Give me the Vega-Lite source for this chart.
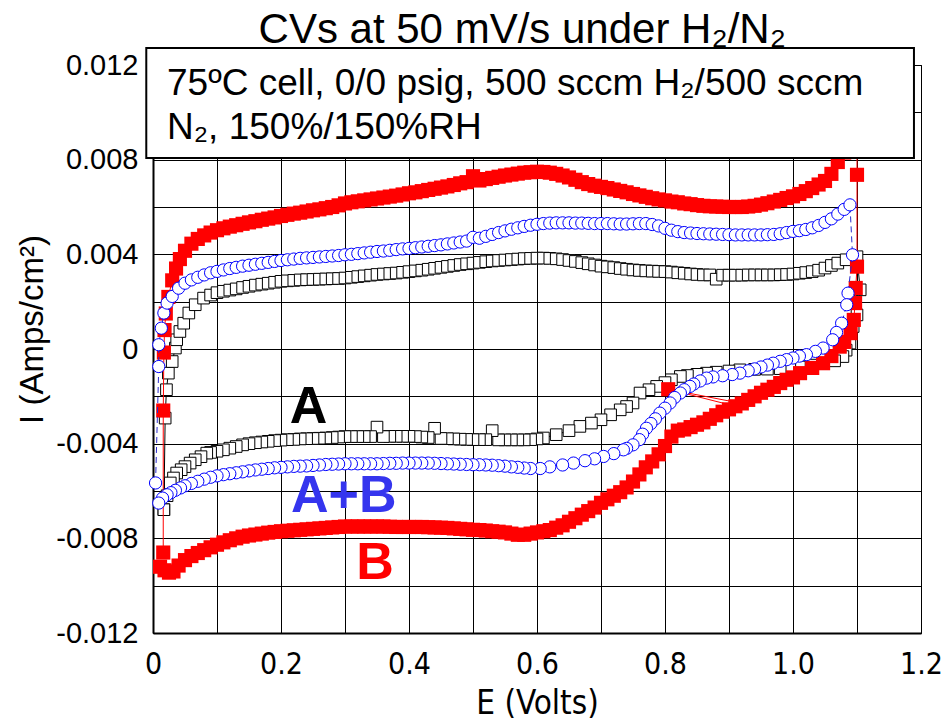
{
"$schema": "https://vega.github.io/schema/vega-lite/v6.json",
"width": 768, "height": 568,
"autosize": {"type": "none"},
"padding": {"left": 153, "top": 65, "right": 22, "bottom": 89},
"background": "white",
"config": {"view": {"stroke": "#000", "strokeWidth": 1}, "font": "Liberation Sans"},
"datasets": {
"cv": [
{"s":"B","E":0.016,"I":-0.0086},{"s":"B","E":0.016,"I":-0.0026},{"s":"B","E":0.017,"I":-0.00015},{"s":"B","E":0.018,"I":0.0008},{"s":"B","E":0.02,"I":0.0015},{"s":"B","E":0.024,"I":0.0022},{"s":"B","E":0.03,"I":0.0029},{"s":"B","E":0.036,"I":0.0034},{"s":"B","E":0.042,"I":0.0038},{"s":"B","E":0.05,"I":0.00415},{"s":"B","E":0.06,"I":0.00445},{"s":"B","E":0.07,"I":0.00465},{"s":"B","E":0.08,"I":0.0048},{"s":"B","E":0.09,"I":0.00492},{"s":"B","E":0.1,"I":0.00502},{"s":"B","E":0.11,"I":0.0051},{"s":"B","E":0.12,"I":0.00517},{"s":"B","E":0.13,"I":0.00523},{"s":"B","E":0.14,"I":0.00529},{"s":"B","E":0.15,"I":0.00535},{"s":"B","E":0.16,"I":0.0054},{"s":"B","E":0.17,"I":0.00546},{"s":"B","E":0.18,"I":0.00551},{"s":"B","E":0.19,"I":0.00556},{"s":"B","E":0.2,"I":0.00562},{"s":"B","E":0.21,"I":0.00567},{"s":"B","E":0.22,"I":0.00572},{"s":"B","E":0.23,"I":0.00576},{"s":"B","E":0.24,"I":0.00581},{"s":"B","E":0.25,"I":0.00586},{"s":"B","E":0.26,"I":0.0059},{"s":"B","E":0.27,"I":0.00595},{"s":"B","E":0.28,"I":0.006},{"s":"B","E":0.29,"I":0.00607},{"s":"B","E":0.3,"I":0.00615},{"s":"B","E":0.31,"I":0.0062},{"s":"B","E":0.32,"I":0.00624},{"s":"B","E":0.33,"I":0.00628},{"s":"B","E":0.34,"I":0.00632},{"s":"B","E":0.35,"I":0.00636},{"s":"B","E":0.36,"I":0.0064},{"s":"B","E":0.37,"I":0.00644},{"s":"B","E":0.38,"I":0.00648},{"s":"B","E":0.39,"I":0.00653},{"s":"B","E":0.4,"I":0.00658},{"s":"B","E":0.41,"I":0.00662},{"s":"B","E":0.42,"I":0.00667},{"s":"B","E":0.43,"I":0.00672},{"s":"B","E":0.44,"I":0.00677},{"s":"B","E":0.45,"I":0.00682},{"s":"B","E":0.46,"I":0.00687},{"s":"B","E":0.47,"I":0.00693},{"s":"B","E":0.48,"I":0.007},{"s":"B","E":0.49,"I":0.00705},{"s":"B","E":0.5,"I":0.0073},{"s":"B","E":0.51,"I":0.00712},{"s":"B","E":0.52,"I":0.00718},{"s":"B","E":0.53,"I":0.00723},{"s":"B","E":0.54,"I":0.00728},{"s":"B","E":0.55,"I":0.00733},{"s":"B","E":0.56,"I":0.00737},{"s":"B","E":0.57,"I":0.00741},{"s":"B","E":0.58,"I":0.00745},{"s":"B","E":0.59,"I":0.00747},{"s":"B","E":0.6,"I":0.00749},{"s":"B","E":0.61,"I":0.00748},{"s":"B","E":0.62,"I":0.00745},{"s":"B","E":0.63,"I":0.0074},{"s":"B","E":0.64,"I":0.00733},{"s":"B","E":0.65,"I":0.00725},{"s":"B","E":0.66,"I":0.00715},{"s":"B","E":0.67,"I":0.00705},{"s":"B","E":0.68,"I":0.00697},{"s":"B","E":0.69,"I":0.0069},{"s":"B","E":0.7,"I":0.00685},{"s":"B","E":0.71,"I":0.0068},{"s":"B","E":0.72,"I":0.00674},{"s":"B","E":0.73,"I":0.00668},{"s":"B","E":0.74,"I":0.00662},{"s":"B","E":0.75,"I":0.00655},{"s":"B","E":0.76,"I":0.00649},{"s":"B","E":0.77,"I":0.00643},{"s":"B","E":0.78,"I":0.00637},{"s":"B","E":0.79,"I":0.00632},{"s":"B","E":0.8,"I":0.00628},{"s":"B","E":0.81,"I":0.00623},{"s":"B","E":0.82,"I":0.0062},{"s":"B","E":0.83,"I":0.00615},{"s":"B","E":0.84,"I":0.00612},{"s":"B","E":0.85,"I":0.00608},{"s":"B","E":0.86,"I":0.00605},{"s":"B","E":0.87,"I":0.00603},{"s":"B","E":0.88,"I":0.00602},{"s":"B","E":0.89,"I":0.00601},{"s":"B","E":0.9,"I":0.006},{"s":"B","E":0.91,"I":0.006},{"s":"B","E":0.92,"I":0.006},{"s":"B","E":0.93,"I":0.00602},{"s":"B","E":0.94,"I":0.00605},{"s":"B","E":0.95,"I":0.0061},{"s":"B","E":0.96,"I":0.00616},{"s":"B","E":0.97,"I":0.00623},{"s":"B","E":0.98,"I":0.0063},{"s":"B","E":0.99,"I":0.00638},{"s":"B","E":1.0,"I":0.00645},{"s":"B","E":1.01,"I":0.00655},{"s":"B","E":1.02,"I":0.00667},{"s":"B","E":1.03,"I":0.0068},{"s":"B","E":1.04,"I":0.00695},{"s":"B","E":1.05,"I":0.0071},{"s":"B","E":1.06,"I":0.0074},{"s":"B","E":1.07,"I":0.0079},{"s":"B","E":1.08,"I":0.0083},{"s":"B","E":1.09,"I":0.0087},{"s":"B","E":1.1,"I":0.009},
{"s":"B","E":1.1,"I":0.00736},{"s":"B","E":1.1,"I":0.00348},{"s":"B","E":1.098,"I":0.00258},{"s":"B","E":1.097,"I":0.00194},{"s":"B","E":1.095,"I":0.00123},{"s":"B","E":1.09,"I":0.00067},{"s":"B","E":1.08,"I":0.0003},{"s":"B","E":1.073,"I":0.0001},{"s":"B","E":1.06,"I":-0.0003},{"s":"B","E":1.047,"I":-0.0006},{"s":"B","E":1.03,"I":-0.0008},{"s":"B","E":1.011,"I":-0.00102},{"s":"B","E":1.0,"I":-0.0012},{"s":"B","E":0.99,"I":-0.0013},{"s":"B","E":0.98,"I":-0.00144},{"s":"B","E":0.97,"I":-0.0016},{"s":"B","E":0.96,"I":-0.00172},{"s":"B","E":0.95,"I":-0.00185},{"s":"B","E":0.94,"I":-0.002},{"s":"B","E":0.93,"I":-0.00215},{"s":"B","E":0.92,"I":-0.0023},{"s":"B","E":0.805,"I":-0.0017},{"s":"B","E":0.91,"I":-0.00242},{"s":"B","E":0.9,"I":-0.00255},{"s":"B","E":0.89,"I":-0.00265},{"s":"B","E":0.88,"I":-0.0028},{"s":"B","E":0.87,"I":-0.00295},{"s":"B","E":0.86,"I":-0.0031},{"s":"B","E":0.85,"I":-0.0032},{"s":"B","E":0.84,"I":-0.0033},{"s":"B","E":0.83,"I":-0.0034},{"s":"B","E":0.82,"I":-0.00345},{"s":"B","E":0.81,"I":-0.0037},{"s":"B","E":0.8,"I":-0.0041},{"s":"B","E":0.79,"I":-0.00445},{"s":"B","E":0.78,"I":-0.00475},{"s":"B","E":0.77,"I":-0.005},{"s":"B","E":0.76,"I":-0.0053},{"s":"B","E":0.75,"I":-0.0056},{"s":"B","E":0.74,"I":-0.00585},{"s":"B","E":0.73,"I":-0.00605},{"s":"B","E":0.72,"I":-0.0062},{"s":"B","E":0.71,"I":-0.00635},{"s":"B","E":0.7,"I":-0.0065},{"s":"B","E":0.69,"I":-0.0067},{"s":"B","E":0.68,"I":-0.00685},{"s":"B","E":0.67,"I":-0.007},{"s":"B","E":0.66,"I":-0.00715},{"s":"B","E":0.65,"I":-0.0073},{"s":"B","E":0.64,"I":-0.00745},{"s":"B","E":0.63,"I":-0.00755},{"s":"B","E":0.62,"I":-0.00765},{"s":"B","E":0.61,"I":-0.0077},{"s":"B","E":0.6,"I":-0.00775},{"s":"B","E":0.59,"I":-0.0078},{"s":"B","E":0.58,"I":-0.00785},{"s":"B","E":0.57,"I":-0.00785},{"s":"B","E":0.56,"I":-0.0078},{"s":"B","E":0.55,"I":-0.00775},{"s":"B","E":0.54,"I":-0.00772},{"s":"B","E":0.53,"I":-0.0077},{"s":"B","E":0.52,"I":-0.00767},{"s":"B","E":0.51,"I":-0.00765},{"s":"B","E":0.5,"I":-0.00764},{"s":"B","E":0.49,"I":-0.00762},{"s":"B","E":0.48,"I":-0.0076},{"s":"B","E":0.47,"I":-0.00758},{"s":"B","E":0.46,"I":-0.00756},{"s":"B","E":0.45,"I":-0.00755},{"s":"B","E":0.44,"I":-0.00754},{"s":"B","E":0.43,"I":-0.00753},{"s":"B","E":0.42,"I":-0.00752},{"s":"B","E":0.41,"I":-0.00752},{"s":"B","E":0.4,"I":-0.00752},{"s":"B","E":0.39,"I":-0.00752},{"s":"B","E":0.38,"I":-0.00752},{"s":"B","E":0.37,"I":-0.00751},{"s":"B","E":0.36,"I":-0.0075},{"s":"B","E":0.35,"I":-0.0075},{"s":"B","E":0.34,"I":-0.0075},{"s":"B","E":0.33,"I":-0.0075},{"s":"B","E":0.32,"I":-0.0075},{"s":"B","E":0.31,"I":-0.0075},{"s":"B","E":0.3,"I":-0.0075},{"s":"B","E":0.29,"I":-0.00752},{"s":"B","E":0.28,"I":-0.00754},{"s":"B","E":0.27,"I":-0.00756},{"s":"B","E":0.26,"I":-0.00758},{"s":"B","E":0.25,"I":-0.0076},{"s":"B","E":0.24,"I":-0.00762},{"s":"B","E":0.23,"I":-0.00764},{"s":"B","E":0.22,"I":-0.00766},{"s":"B","E":0.21,"I":-0.00768},{"s":"B","E":0.2,"I":-0.0077},{"s":"B","E":0.19,"I":-0.00773},{"s":"B","E":0.18,"I":-0.00776},{"s":"B","E":0.17,"I":-0.0078},{"s":"B","E":0.16,"I":-0.00784},{"s":"B","E":0.15,"I":-0.00788},{"s":"B","E":0.14,"I":-0.00793},{"s":"B","E":0.13,"I":-0.008},{"s":"B","E":0.12,"I":-0.00808},{"s":"B","E":0.11,"I":-0.00817},{"s":"B","E":0.1,"I":-0.00827},{"s":"B","E":0.09,"I":-0.00838},{"s":"B","E":0.08,"I":-0.0085},{"s":"B","E":0.07,"I":-0.00862},{"s":"B","E":0.06,"I":-0.00875},{"s":"B","E":0.05,"I":-0.00892},{"s":"B","E":0.04,"I":-0.00915},{"s":"B","E":0.032,"I":-0.0094},{"s":"B","E":0.025,"I":-0.00945},{"s":"B","E":0.018,"I":-0.00935},{"s":"B","E":0.011,"I":-0.0092},
{"s":"AB","E":0.004,"I":-0.00566},{"s":"AB","E":0.009,"I":-0.00074},{"s":"AB","E":0.009,"I":0.00018},{"s":"AB","E":0.013,"I":0.00088},{"s":"AB","E":0.017,"I":0.00152},{"s":"AB","E":0.022,"I":0.00194},{"s":"AB","E":0.03,"I":0.00222},{"s":"AB","E":0.04,"I":0.00257},{"s":"AB","E":0.05,"I":0.00278},{"s":"AB","E":0.06,"I":0.00292},{"s":"AB","E":0.07,"I":0.00303},{"s":"AB","E":0.08,"I":0.00313},{"s":"AB","E":0.09,"I":0.00322},{"s":"AB","E":0.1,"I":0.00328},{"s":"AB","E":0.11,"I":0.00334},{"s":"AB","E":0.12,"I":0.0034},{"s":"AB","E":0.13,"I":0.00345},{"s":"AB","E":0.14,"I":0.0035},{"s":"AB","E":0.15,"I":0.00354},{"s":"AB","E":0.16,"I":0.00358},{"s":"AB","E":0.17,"I":0.00362},{"s":"AB","E":0.18,"I":0.00366},{"s":"AB","E":0.19,"I":0.0037},{"s":"AB","E":0.2,"I":0.00374},{"s":"AB","E":0.21,"I":0.00377},{"s":"AB","E":0.22,"I":0.0038},{"s":"AB","E":0.23,"I":0.00383},{"s":"AB","E":0.24,"I":0.00385},{"s":"AB","E":0.25,"I":0.00387},{"s":"AB","E":0.26,"I":0.00389},{"s":"AB","E":0.27,"I":0.00391},{"s":"AB","E":0.28,"I":0.00393},{"s":"AB","E":0.29,"I":0.00395},{"s":"AB","E":0.3,"I":0.00398},{"s":"AB","E":0.31,"I":0.004},{"s":"AB","E":0.32,"I":0.00403},{"s":"AB","E":0.33,"I":0.00406},{"s":"AB","E":0.34,"I":0.00409},{"s":"AB","E":0.35,"I":0.00412},{"s":"AB","E":0.36,"I":0.00414},{"s":"AB","E":0.37,"I":0.00417},{"s":"AB","E":0.38,"I":0.0042},{"s":"AB","E":0.39,"I":0.00423},{"s":"AB","E":0.4,"I":0.00425},{"s":"AB","E":0.41,"I":0.00428},{"s":"AB","E":0.42,"I":0.00431},{"s":"AB","E":0.43,"I":0.00434},{"s":"AB","E":0.44,"I":0.00437},{"s":"AB","E":0.45,"I":0.0044},{"s":"AB","E":0.46,"I":0.00444},{"s":"AB","E":0.47,"I":0.00448},{"s":"AB","E":0.48,"I":0.00452},{"s":"AB","E":0.49,"I":0.00456},{"s":"AB","E":0.5,"I":0.00472},{"s":"AB","E":0.51,"I":0.00468},{"s":"AB","E":0.52,"I":0.00476},{"s":"AB","E":0.53,"I":0.00484},{"s":"AB","E":0.54,"I":0.00492},{"s":"AB","E":0.55,"I":0.00499},{"s":"AB","E":0.56,"I":0.00506},{"s":"AB","E":0.57,"I":0.00512},{"s":"AB","E":0.58,"I":0.00518},{"s":"AB","E":0.59,"I":0.00523},{"s":"AB","E":0.6,"I":0.00527},{"s":"AB","E":0.61,"I":0.0053},{"s":"AB","E":0.62,"I":0.00532},{"s":"AB","E":0.63,"I":0.00533},{"s":"AB","E":0.64,"I":0.00533},{"s":"AB","E":0.65,"I":0.00533},{"s":"AB","E":0.66,"I":0.00532},{"s":"AB","E":0.67,"I":0.00532},{"s":"AB","E":0.68,"I":0.00531},{"s":"AB","E":0.69,"I":0.0053},{"s":"AB","E":0.7,"I":0.0053},{"s":"AB","E":0.71,"I":0.0053},{"s":"AB","E":0.72,"I":0.00529},{"s":"AB","E":0.73,"I":0.00528},{"s":"AB","E":0.74,"I":0.00528},{"s":"AB","E":0.75,"I":0.00529},{"s":"AB","E":0.76,"I":0.0053},{"s":"AB","E":0.77,"I":0.0053},{"s":"AB","E":0.78,"I":0.00526},{"s":"AB","E":0.79,"I":0.0052},{"s":"AB","E":0.8,"I":0.0051},{"s":"AB","E":0.81,"I":0.00502},{"s":"AB","E":0.82,"I":0.00496},{"s":"AB","E":0.83,"I":0.00492},{"s":"AB","E":0.84,"I":0.0049},{"s":"AB","E":0.85,"I":0.00488},{"s":"AB","E":0.86,"I":0.00487},{"s":"AB","E":0.87,"I":0.00486},{"s":"AB","E":0.88,"I":0.00485},{"s":"AB","E":0.89,"I":0.00484},{"s":"AB","E":0.9,"I":0.00483},{"s":"AB","E":0.91,"I":0.00482},{"s":"AB","E":0.92,"I":0.00482},{"s":"AB","E":0.93,"I":0.00482},{"s":"AB","E":0.94,"I":0.00482},{"s":"AB","E":0.95,"I":0.00482},{"s":"AB","E":0.96,"I":0.00483},{"s":"AB","E":0.97,"I":0.00484},{"s":"AB","E":0.98,"I":0.00487},{"s":"AB","E":0.99,"I":0.00492},{"s":"AB","E":1.0,"I":0.00497},{"s":"AB","E":1.01,"I":0.005},{"s":"AB","E":1.02,"I":0.00505},{"s":"AB","E":1.03,"I":0.00512},{"s":"AB","E":1.04,"I":0.00522},{"s":"AB","E":1.05,"I":0.00535},{"s":"AB","E":1.06,"I":0.0055},{"s":"AB","E":1.07,"I":0.0057},{"s":"AB","E":1.08,"I":0.0059},{"s":"AB","E":1.089,"I":0.00609},
{"s":"AB","E":1.093,"I":0.00398},{"s":"AB","E":1.086,"I":0.00236},{"s":"AB","E":1.084,"I":0.00187},{"s":"AB","E":1.076,"I":0.00109},{"s":"AB","E":1.068,"I":0.0007},{"s":"AB","E":1.062,"I":0.00039},{"s":"AB","E":1.047,"I":0.00004},{"s":"AB","E":1.035,"I":-0.0001},{"s":"AB","E":1.021,"I":-0.00024},{"s":"AB","E":1.01,"I":-0.0003},{"s":"AB","E":1.0,"I":-0.00038},{"s":"AB","E":0.99,"I":-0.00045},{"s":"AB","E":0.98,"I":-0.00052},{"s":"AB","E":0.969,"I":-0.0006},{"s":"AB","E":0.96,"I":-0.00068},{"s":"AB","E":0.95,"I":-0.00076},{"s":"AB","E":0.94,"I":-0.00084},{"s":"AB","E":0.93,"I":-0.00092},{"s":"AB","E":0.917,"I":-0.00102},{"s":"AB","E":0.905,"I":-0.00108},{"s":"AB","E":0.89,"I":-0.00113},{"s":"AB","E":0.875,"I":-0.00118},{"s":"AB","E":0.865,"I":-0.00123},{"s":"AB","E":0.855,"I":-0.00135},{"s":"AB","E":0.845,"I":-0.00148},{"s":"AB","E":0.839,"I":-0.00158},{"s":"AB","E":0.83,"I":-0.00172},{"s":"AB","E":0.824,"I":-0.00186},{"s":"AB","E":0.815,"I":-0.00205},{"s":"AB","E":0.808,"I":-0.00228},{"s":"AB","E":0.8,"I":-0.0025},{"s":"AB","E":0.792,"I":-0.00271},{"s":"AB","E":0.785,"I":-0.00295},{"s":"AB","E":0.778,"I":-0.00315},{"s":"AB","E":0.771,"I":-0.00335},{"s":"AB","E":0.765,"I":-0.0036},{"s":"AB","E":0.76,"I":-0.00383},{"s":"AB","E":0.75,"I":-0.00405},{"s":"AB","E":0.74,"I":-0.0042},{"s":"AB","E":0.735,"I":-0.00426},{"s":"AB","E":0.72,"I":-0.00442},{"s":"AB","E":0.704,"I":-0.00454},{"s":"AB","E":0.69,"I":-0.00464},{"s":"AB","E":0.675,"I":-0.00472},{"s":"AB","E":0.657,"I":-0.00482},{"s":"AB","E":0.64,"I":-0.0049},{"s":"AB","E":0.62,"I":-0.00498},{"s":"AB","E":0.605,"I":-0.00505},{"s":"AB","E":0.59,"I":-0.00505},{"s":"AB","E":0.58,"I":-0.00503},{"s":"AB","E":0.57,"I":-0.005},{"s":"AB","E":0.56,"I":-0.00498},{"s":"AB","E":0.55,"I":-0.00495},{"s":"AB","E":0.54,"I":-0.00493},{"s":"AB","E":0.53,"I":-0.00491},{"s":"AB","E":0.52,"I":-0.0049},{"s":"AB","E":0.51,"I":-0.00489},{"s":"AB","E":0.5,"I":-0.00489},{"s":"AB","E":0.49,"I":-0.00488},{"s":"AB","E":0.48,"I":-0.00487},{"s":"AB","E":0.47,"I":-0.00486},{"s":"AB","E":0.46,"I":-0.00485},{"s":"AB","E":0.45,"I":-0.00484},{"s":"AB","E":0.44,"I":-0.00483},{"s":"AB","E":0.43,"I":-0.00482},{"s":"AB","E":0.42,"I":-0.00482},{"s":"AB","E":0.41,"I":-0.00482},{"s":"AB","E":0.4,"I":-0.00482},{"s":"AB","E":0.39,"I":-0.00482},{"s":"AB","E":0.38,"I":-0.00483},{"s":"AB","E":0.37,"I":-0.00483},{"s":"AB","E":0.36,"I":-0.00484},{"s":"AB","E":0.35,"I":-0.00485},{"s":"AB","E":0.34,"I":-0.00485},{"s":"AB","E":0.33,"I":-0.00485},{"s":"AB","E":0.32,"I":-0.00485},{"s":"AB","E":0.31,"I":-0.00485},{"s":"AB","E":0.3,"I":-0.00485},{"s":"AB","E":0.29,"I":-0.00486},{"s":"AB","E":0.28,"I":-0.00487},{"s":"AB","E":0.27,"I":-0.00488},{"s":"AB","E":0.26,"I":-0.0049},{"s":"AB","E":0.25,"I":-0.00492},{"s":"AB","E":0.24,"I":-0.00494},{"s":"AB","E":0.23,"I":-0.00495},{"s":"AB","E":0.22,"I":-0.00496},{"s":"AB","E":0.21,"I":-0.00498},{"s":"AB","E":0.2,"I":-0.005},{"s":"AB","E":0.19,"I":-0.00502},{"s":"AB","E":0.18,"I":-0.00505},{"s":"AB","E":0.17,"I":-0.00508},{"s":"AB","E":0.16,"I":-0.00511},{"s":"AB","E":0.15,"I":-0.00515},{"s":"AB","E":0.14,"I":-0.00519},{"s":"AB","E":0.13,"I":-0.00523},{"s":"AB","E":0.12,"I":-0.00527},{"s":"AB","E":0.11,"I":-0.00531},{"s":"AB","E":0.1,"I":-0.00536},{"s":"AB","E":0.09,"I":-0.00542},{"s":"AB","E":0.08,"I":-0.0055},{"s":"AB","E":0.07,"I":-0.00559},{"s":"AB","E":0.06,"I":-0.00568},{"s":"AB","E":0.05,"I":-0.00578},{"s":"AB","E":0.043,"I":-0.00587},{"s":"AB","E":0.035,"I":-0.00597},{"s":"AB","E":0.028,"I":-0.00607},{"s":"AB","E":0.022,"I":-0.00616},{"s":"AB","E":0.015,"I":-0.0063},{"s":"AB","E":0.009,"I":-0.00651},
{"s":"A","E":0.017,"I":-0.00679},{"s":"A","E":0.019,"I":-0.00292},{"s":"A","E":0.021,"I":-0.00172},{"s":"A","E":0.024,"I":-0.00102},{"s":"A","E":0.03,"I":-0.00053},{"s":"A","E":0.035,"I":0.00004},{"s":"A","E":0.037,"I":0.00039},{"s":"A","E":0.042,"I":0.00074},{"s":"A","E":0.048,"I":0.00109},{"s":"A","E":0.056,"I":0.00152},{"s":"A","E":0.066,"I":0.00187},{"s":"A","E":0.079,"I":0.00215},{"s":"A","E":0.09,"I":0.00228},{"s":"A","E":0.1,"I":0.00238},{"s":"A","E":0.11,"I":0.00244},{"s":"A","E":0.12,"I":0.00249},{"s":"A","E":0.13,"I":0.00254},{"s":"A","E":0.14,"I":0.0026},{"s":"A","E":0.15,"I":0.00265},{"s":"A","E":0.16,"I":0.0027},{"s":"A","E":0.17,"I":0.00274},{"s":"A","E":0.18,"I":0.00278},{"s":"A","E":0.19,"I":0.00282},{"s":"A","E":0.2,"I":0.00286},{"s":"A","E":0.21,"I":0.00288},{"s":"A","E":0.22,"I":0.0029},{"s":"A","E":0.23,"I":0.00292},{"s":"A","E":0.24,"I":0.00293},{"s":"A","E":0.25,"I":0.00294},{"s":"A","E":0.26,"I":0.00295},{"s":"A","E":0.27,"I":0.00296},{"s":"A","E":0.28,"I":0.00297},{"s":"A","E":0.29,"I":0.00298},{"s":"A","E":0.3,"I":0.003},{"s":"A","E":0.31,"I":0.00303},{"s":"A","E":0.32,"I":0.00306},{"s":"A","E":0.33,"I":0.00309},{"s":"A","E":0.34,"I":0.00312},{"s":"A","E":0.35,"I":0.00315},{"s":"A","E":0.36,"I":0.00317},{"s":"A","E":0.37,"I":0.00319},{"s":"A","E":0.38,"I":0.00321},{"s":"A","E":0.39,"I":0.00324},{"s":"A","E":0.4,"I":0.00327},{"s":"A","E":0.41,"I":0.0033},{"s":"A","E":0.42,"I":0.00333},{"s":"A","E":0.43,"I":0.00337},{"s":"A","E":0.44,"I":0.00341},{"s":"A","E":0.45,"I":0.00345},{"s":"A","E":0.46,"I":0.00349},{"s":"A","E":0.47,"I":0.00353},{"s":"A","E":0.48,"I":0.00357},{"s":"A","E":0.49,"I":0.0036},{"s":"A","E":0.5,"I":0.00363},{"s":"A","E":0.51,"I":0.00366},{"s":"A","E":0.52,"I":0.00369},{"s":"A","E":0.53,"I":0.00372},{"s":"A","E":0.54,"I":0.00374},{"s":"A","E":0.55,"I":0.00376},{"s":"A","E":0.56,"I":0.00378},{"s":"A","E":0.57,"I":0.0038},{"s":"A","E":0.58,"I":0.00382},{"s":"A","E":0.59,"I":0.00383},{"s":"A","E":0.6,"I":0.00384},{"s":"A","E":0.61,"I":0.00384},{"s":"A","E":0.62,"I":0.00383},{"s":"A","E":0.63,"I":0.00381},{"s":"A","E":0.64,"I":0.00378},{"s":"A","E":0.65,"I":0.00374},{"s":"A","E":0.66,"I":0.0037},{"s":"A","E":0.67,"I":0.00365},{"s":"A","E":0.68,"I":0.0036},{"s":"A","E":0.69,"I":0.00355},{"s":"A","E":0.7,"I":0.0035},{"s":"A","E":0.71,"I":0.00347},{"s":"A","E":0.72,"I":0.00344},{"s":"A","E":0.73,"I":0.0034},{"s":"A","E":0.74,"I":0.00337},{"s":"A","E":0.75,"I":0.00334},{"s":"A","E":0.76,"I":0.00332},{"s":"A","E":0.77,"I":0.0033},{"s":"A","E":0.78,"I":0.00329},{"s":"A","E":0.79,"I":0.00328},{"s":"A","E":0.8,"I":0.00327},{"s":"A","E":0.81,"I":0.00325},{"s":"A","E":0.82,"I":0.00322},{"s":"A","E":0.83,"I":0.0032},{"s":"A","E":0.84,"I":0.00317},{"s":"A","E":0.85,"I":0.00315},{"s":"A","E":0.86,"I":0.00313},{"s":"A","E":0.87,"I":0.00313},{"s":"A","E":0.88,"I":0.00295},{"s":"A","E":0.89,"I":0.00312},{"s":"A","E":0.9,"I":0.00312},{"s":"A","E":0.91,"I":0.00312},{"s":"A","E":0.92,"I":0.00312},{"s":"A","E":0.93,"I":0.00313},{"s":"A","E":0.94,"I":0.00313},{"s":"A","E":0.95,"I":0.00313},{"s":"A","E":0.96,"I":0.00313},{"s":"A","E":0.97,"I":0.00313},{"s":"A","E":0.98,"I":0.00314},{"s":"A","E":0.99,"I":0.00315},{"s":"A","E":1.0,"I":0.00317},{"s":"A","E":1.01,"I":0.0032},{"s":"A","E":1.02,"I":0.00323},{"s":"A","E":1.03,"I":0.00327},{"s":"A","E":1.04,"I":0.00333},{"s":"A","E":1.05,"I":0.00342},{"s":"A","E":1.06,"I":0.00353},{"s":"A","E":1.07,"I":0.00363},{"s":"A","E":1.083,"I":0.00377},{"s":"A","E":1.1,"I":0.0039},
{"s":"A","E":1.105,"I":0.0025},{"s":"A","E":1.1,"I":0.00144},{"s":"A","E":1.094,"I":0.00095},{"s":"A","E":1.089,"I":0.00025},{"s":"A","E":1.083,"I":-0.00005},{"s":"A","E":1.078,"I":-0.00032},{"s":"A","E":1.065,"I":-0.0005},{"s":"A","E":1.047,"I":-0.0006},{"s":"A","E":1.03,"I":-0.00068},{"s":"A","E":1.01,"I":-0.00076},{"s":"A","E":0.995,"I":-0.00081},{"s":"A","E":0.98,"I":-0.00083},{"s":"A","E":0.96,"I":-0.00085},{"s":"A","E":0.94,"I":-0.00086},{"s":"A","E":0.917,"I":-0.00088},{"s":"A","E":0.9,"I":-0.00093},{"s":"A","E":0.88,"I":-0.00098},{"s":"A","E":0.865,"I":-0.00102},{"s":"A","E":0.85,"I":-0.00107},{"s":"A","E":0.835,"I":-0.00112},{"s":"A","E":0.824,"I":-0.00116},{"s":"A","E":0.81,"I":-0.0013},{"s":"A","E":0.8,"I":-0.00142},{"s":"A","E":0.787,"I":-0.00158},{"s":"A","E":0.775,"I":-0.00172},{"s":"A","E":0.761,"I":-0.00186},{"s":"A","E":0.75,"I":-0.00228},{"s":"A","E":0.74,"I":-0.00243},{"s":"A","E":0.73,"I":-0.00257},{"s":"A","E":0.715,"I":-0.00278},{"s":"A","E":0.7,"I":-0.00299},{"s":"A","E":0.685,"I":-0.00313},{"s":"A","E":0.667,"I":-0.00327},{"s":"A","E":0.65,"I":-0.00345},{"s":"A","E":0.63,"I":-0.00362},{"s":"A","E":0.61,"I":-0.00376},{"s":"A","E":0.6,"I":-0.0038},{"s":"A","E":0.59,"I":-0.00383},{"s":"A","E":0.58,"I":-0.00384},{"s":"A","E":0.57,"I":-0.00384},{"s":"A","E":0.56,"I":-0.00384},{"s":"A","E":0.55,"I":-0.00384},{"s":"A","E":0.54,"I":-0.00384},{"s":"A","E":0.53,"I":-0.00345},{"s":"A","E":0.52,"I":-0.00383},{"s":"A","E":0.51,"I":-0.00383},{"s":"A","E":0.5,"I":-0.00383},{"s":"A","E":0.49,"I":-0.00382},{"s":"A","E":0.48,"I":-0.00381},{"s":"A","E":0.47,"I":-0.0038},{"s":"A","E":0.46,"I":-0.00379},{"s":"A","E":0.45,"I":-0.00378},{"s":"A","E":0.44,"I":-0.00335},{"s":"A","E":0.43,"I":-0.00374},{"s":"A","E":0.42,"I":-0.00372},{"s":"A","E":0.41,"I":-0.0037},{"s":"A","E":0.4,"I":-0.00369},{"s":"A","E":0.39,"I":-0.00369},{"s":"A","E":0.38,"I":-0.00369},{"s":"A","E":0.37,"I":-0.00369},{"s":"A","E":0.36,"I":-0.0037},{"s":"A","E":0.35,"I":-0.0033},{"s":"A","E":0.34,"I":-0.0037},{"s":"A","E":0.33,"I":-0.0037},{"s":"A","E":0.32,"I":-0.0037},{"s":"A","E":0.31,"I":-0.0037},{"s":"A","E":0.3,"I":-0.0037},{"s":"A","E":0.29,"I":-0.00372},{"s":"A","E":0.28,"I":-0.00374},{"s":"A","E":0.27,"I":-0.00376},{"s":"A","E":0.26,"I":-0.00377},{"s":"A","E":0.25,"I":-0.00378},{"s":"A","E":0.24,"I":-0.00379},{"s":"A","E":0.23,"I":-0.0038},{"s":"A","E":0.22,"I":-0.00382},{"s":"A","E":0.21,"I":-0.00383},{"s":"A","E":0.2,"I":-0.00385},{"s":"A","E":0.19,"I":-0.00387},{"s":"A","E":0.18,"I":-0.0039},{"s":"A","E":0.17,"I":-0.00393},{"s":"A","E":0.16,"I":-0.00396},{"s":"A","E":0.15,"I":-0.004},{"s":"A","E":0.14,"I":-0.00405},{"s":"A","E":0.13,"I":-0.00412},{"s":"A","E":0.12,"I":-0.00419},{"s":"A","E":0.11,"I":-0.00426},{"s":"A","E":0.1,"I":-0.00432},{"s":"A","E":0.09,"I":-0.00437},{"s":"A","E":0.084,"I":-0.0044},{"s":"A","E":0.075,"I":-0.00455},{"s":"A","E":0.066,"I":-0.00468},{"s":"A","E":0.058,"I":-0.00482},{"s":"A","E":0.05,"I":-0.00497},{"s":"A","E":0.044,"I":-0.0051},{"s":"A","E":0.037,"I":-0.00524},{"s":"A","E":0.032,"I":-0.00545},{"s":"A","E":0.027,"I":-0.00566},{"s":"A","E":0.022,"I":-0.0062},{"s":"A","E":0.017,"I":-0.00679}
]
},
"encoding": {
"x": {"field": "E", "type": "quantitative", "scale": {"domain": [0, 1.2], "nice": false, "zero": false},
 "axis": {"title": "E (Volts)", "values": [0,0.1,0.2,0.3,0.4,0.5,0.6,0.7,0.8,0.9,1.0,1.1,1.2],
  "labelExpr": "round(datum.value*10)%2==0 ? (datum.value==0 ? '0' : format(datum.value,'.1f')) : ''",
  "grid": true, "gridColor": "#000", "gridWidth": 1, "ticks": false, "tickSize": 0,
  "domainColor": "#000", "domainWidth": 2, "labelOverlap": false, "labelFlush": false,
  "labelFont": "DejaVu Sans Condensed, Liberation Sans", "labelFontSize": 30, "labelColor": "#000", "labelPadding": 16,
  "titleFont": "DejaVu Sans Condensed, Liberation Sans", "titleFontSize": 33, "titleFontWeight": "normal", "titleColor": "#000",
  "titleY": 80, "titleBaseline": "alphabetic"}},
"y": {"field": "I", "type": "quantitative", "scale": {"domain": [-0.012, 0.012], "nice": false, "zero": false},
 "axis": {"title": "I (Amps/cm²)", "values": [-0.012,-0.01,-0.008,-0.006,-0.004,-0.002,0,0.002,0.004,0.006,0.008,0.01,0.012],
  "labelExpr": "round(datum.value*1000)%4==0 ? (datum.value==0 ? '0' : (datum.value<0 ? '-' : '') + format(abs(datum.value),'.3f')) : ''",
  "grid": true, "gridColor": "#000", "gridWidth": 1, "ticks": false, "tickSize": 0,
  "domainColor": "#000", "domainWidth": 2, "labelOverlap": false, "labelFlush": false,
  "labelFont": "Liberation Sans", "labelFontSize": 29, "labelColor": "#000", "labelPadding": 15,
  "titleFont": "Liberation Sans", "titleFontSize": 33, "titleFontWeight": "normal", "titleColor": "#000",
  "titleX": -111, "titleY": 264, "titleBaseline": "alphabetic"}}
},
"layer": [
{"data": {"name": "cv"}, "transform": [{"filter": "datum.s=='A'"}], "mark": {"type": "line", "color": "#000", "strokeWidth": 1}, "encoding": {"order": {"value": null}}},
{"data": {"name": "cv"}, "transform": [{"filter": "datum.s=='A'"}], "mark": {"type": "point", "shape": "square", "filled": true, "fill": "#fff", "stroke": "#000", "strokeWidth": 1, "size": 135, "opacity": 1}},
{"data": {"name": "cv"}, "transform": [{"filter": "datum.s=='B'"}], "mark": {"type": "line", "color": "#ff0000", "strokeWidth": 1}, "encoding": {"order": {"value": null}}},
{"data": {"name": "cv"}, "transform": [{"filter": "datum.s=='B'"}], "mark": {"type": "point", "shape": "square", "filled": true, "fill": "#ff0000", "strokeWidth": 0, "size": 200, "opacity": 1}},
{"data": {"name": "cv"}, "transform": [{"filter": "datum.s=='AB'"}], "mark": {"type": "line", "color": "#2a2acc", "strokeWidth": 1, "strokeDash": [6, 4]}, "encoding": {"order": {"value": null}}},
{"data": {"name": "cv"}, "transform": [{"filter": "datum.s=='AB'"}], "mark": {"type": "point", "shape": "circle", "filled": true, "fill": "#fff", "stroke": "#0000ff", "strokeWidth": 1, "size": 150, "opacity": 1}},
{"data": {"values": [{"t": "A", "E": 0.243, "I": -0.00314}, {"t": "A+B", "E": 0.298, "I": -0.00687}, {"t": "B", "E": 0.347, "I": -0.00971}]},
 "mark": {"type": "text", "font": "Liberation Sans", "fontSize": 52, "fontWeight": "bold", "align": "center", "baseline": "alphabetic"},
 "encoding": {"text": {"field": "t"}, "color": {"field": "t", "type": "nominal", "scale": {"domain": ["A", "A+B", "B"], "range": ["#000000", "#3535ee", "#ff0000"]}, "legend": null}}},
{"data": {"values": [{"x1": -0.0105, "x2": 1.189, "y1": 0.01272, "y2": 0.00807}]},
 "mark": {"type": "rect", "fill": "#fff", "stroke": "#000", "strokeWidth": 2},
 "encoding": {"x": {"field": "x1", "type": "quantitative"}, "x2": {"field": "x2"}, "y": {"field": "y1", "type": "quantitative"}, "y2": {"field": "y2"}}},
{"data": {"values": [{"E": 0.0219, "I": 0.01073, "t": "75ºC cell, 0/0 psig, 500 sccm H₂/500 sccm"}, {"E": 0.0219, "I": 0.00888, "t": "N₂, 150%/150%RH"}]},
 "mark": {"type": "text", "font": "Liberation Sans", "fontSize": 37, "align": "left", "baseline": "alphabetic", "color": "#000"},
 "encoding": {"text": {"field": "t"}}},
{"data": {"values": [{"E": 0.577, "I": 0.01293, "t": "CVs at 50 mV/s under H₂/N₂"}]},
 "mark": {"type": "text", "font": "Liberation Sans", "fontSize": 42, "align": "center", "baseline": "alphabetic", "color": "#000"},
 "encoding": {"text": {"field": "t"}}}
]
}
